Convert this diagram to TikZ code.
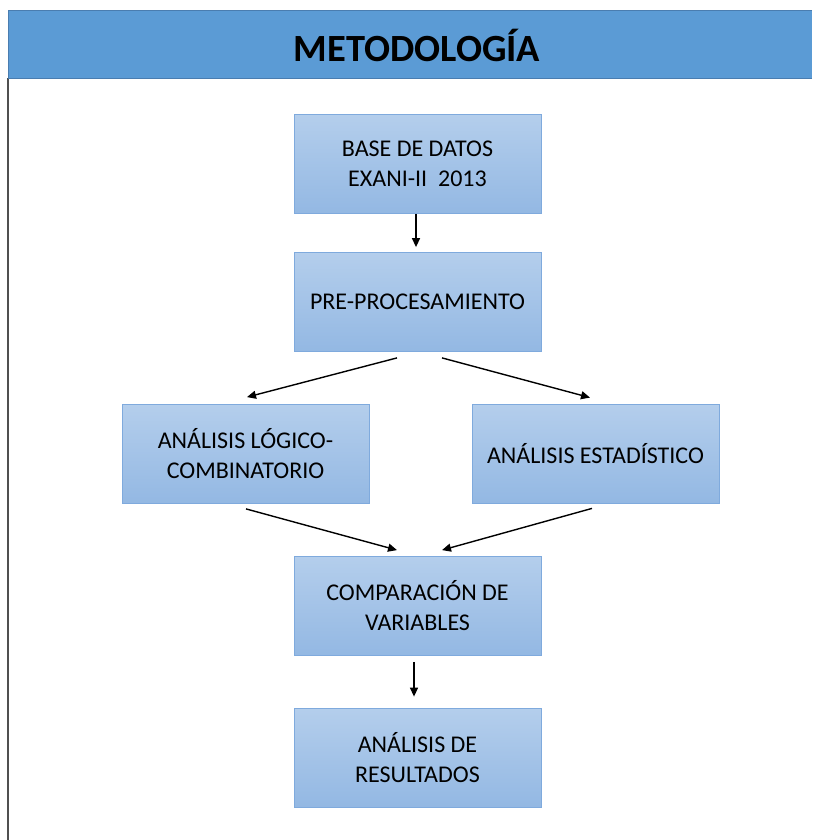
\documentclass[tikz,border=0pt]{standalone}
\usepackage{fontspec}
\setmainfont{Carlito}
\usetikzlibrary{calc,arrows.meta,shadings}
\definecolor{hdr}{HTML}{5B9BD5}
\definecolor{hdrline}{HTML}{4A7DB0}
\definecolor{boxtop}{HTML}{B4CEEC}
\definecolor{boxbot}{HTML}{93B8E3}
\definecolor{boxline}{HTML}{7FAADD}
\definecolor{frameline}{HTML}{505050}
\tikzset{
  stepbox/.style={rectangle, minimum width=247pt, minimum height=99pt,
    top color=boxtop, bottom color=boxbot, draw=boxline, line width=0.8pt,
    align=center, font=\fontsize{24}{30}\selectfont, text=black, inner sep=0pt},
  flow/.style={line width=1.4pt, -{Triangle[length=9pt,width=8pt]}},
}
\begin{document}
\begin{tikzpicture}[x=1pt,y=-1pt]
\useasboundingbox (0,0) rectangle (812,840);
\fill[white] (0,0) rectangle (812,840);
% frame
\draw[frameline, line width=1.6pt] (8,78) -- (8,840);
\fill[hdr] (8,10) rectangle (812,78);
\draw[hdrline, line width=0.8pt] (812,10) -- (8,10) -- (8,78) -- (812,78);
\node[font=\fontsize{38.5}{40}\selectfont\bfseries, text=black] (title) at (417,45) {METODOLOGÍA};
% boxes
\node[stepbox] (base) at (417.5,164) {BASE DE DATOS\\EXANI-II\ \ 2013};
\node[stepbox] (pre) at (417.5,302) {PRE-PROCESAMIENTO};
\node[stepbox] (log) at (245.5,454) {ANÁLISIS LÓGICO-\\COMBINATORIO};
\node[stepbox] (est) at (595.5,453.5) {ANÁLISIS ESTADÍSTICO};
\node[stepbox] (comp) at (417.5,606) {COMPARACIÓN DE\\VARIABLES};
\node[stepbox] (res) at (417.5,757.5) {ANÁLISIS DE\\RESULTADOS};
% connectors
\draw[flow] ($(base.south)+(-1.5,0)$) -- ($(pre.north)+(-1.5,-5)$);
\draw[flow] ($(pre.south)+(-20.5,6)$) -- ($(log.north)+(1.5,-7)$);
\draw[flow] ($(pre.south)+(24.5,6)$) -- ($(est.north)+(-5.5,-6)$);
\draw[flow] ($(log.south)+(0.5,5)$) -- ($(comp.north)+(-20.5,-6)$);
\draw[flow] ($(est.south)+(-3.5,5)$) -- ($(comp.north)+(24.5,-6)$);
\draw[flow] ($(comp.south)+(-3.5,6)$) -- ($(res.north)+(-3.5,-11)$);
\end{tikzpicture}
\end{document}
